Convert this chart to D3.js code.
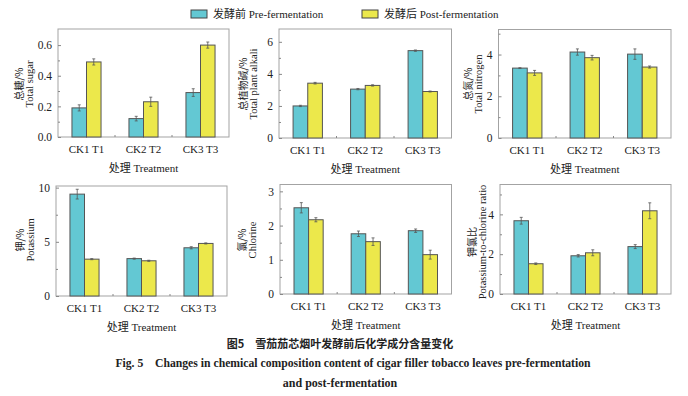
<!DOCTYPE html>
<html>
<head>
<meta charset="utf-8">
<script src="https://cdn.jsdelivr.net/npm/d3@7"></script>
<style>
  body { margin: 0; background: #fff; }
  svg { display: block; }
  text { fill: #222; }
</style>
</head>
<body>
<div id="chart"></div>
<script>
// groups on the x axis
var groups = ["CK1 T1", "CK2 T2", "CK3 T3"];

// values (mean, error)
var sugarPre = [0.19, 0.12, 0.29],  sugarPreErr = [0.02, 0.015, 0.025];
var sugarPost = [0.49, 0.23, 0.60], sugarPostErr = [0.02, 0.03, 0.02];

var alkaliPre = [2.0, 3.05, 5.45],  alkaliPreErr = [0.04, 0.04, 0.04];
var alkaliPost = [3.42, 3.28, 2.9], alkaliPostErr = [0.05, 0.04, 0.03];

var nitroPre = [3.35, 4.12, 4.02],  nitroPreErr = [0.02, 0.15, 0.25];
var nitroPost = [3.12, 3.85, 3.4],  nitroPostErr = [0.12, 0.11, 0.05];

var kPre = [9.4, 3.45, 4.45],  kPreErr = [0.45, 0.05, 0.1];
var kPost = [3.4, 3.25, 4.85], kPostErr = [0.05, 0.05, 0.05];

var clPre = [2.52, 1.76, 1.85],  clPreErr = [0.15, 0.08, 0.05];
var clPost = [2.17, 1.53, 1.15], clPostErr = [0.06, 0.11, 0.13];

var ratioPre = [3.68, 1.92, 2.38],  ratioPreErr = [0.17, 0.06, 0.1];
var ratioPost = [1.52, 2.07, 4.18], ratioPostErr = [0.04, 0.15, 0.4];

var seriesNames = ["发酵前 Pre-fermentation", "发酵后 Post-fermentation"];
var colors = ["#63c8d3", "#ece84b"];

var width = 688, height = 396;
var serif = "'Liberation Serif', 'Times New Roman', 'Noto Sans CJK SC', serif";

var svg = d3.select("#chart").append("svg")
    .attr("width", width)
    .attr("height", height)
    .style("font-family", serif);

// *****************************
// panel layout: box in pixels, y domain, ticks, labels
// *****************************
var panels = [
    { pre: sugarPre, preErr: sugarPreErr, post: sugarPost, postErr: sugarPostErr,
      x0: 58, x1: 229, y0: 29, y1: 137, max: 0.705,
      ticks: [0, 0.2, 0.4, 0.6], minor: [0.1, 0.3, 0.5], fmt: d3.format(".1f"),
      zh: "总糖/%", en: "Total sugar", lx: 22.5, ly: 84 },
    { pre: alkaliPre, preErr: alkaliPreErr, post: alkaliPost, postErr: alkaliPostErr,
      x0: 279, x1: 451.5, y0: 29, y1: 138, max: 6.8,
      ticks: [0, 2, 4, 6], minor: [1, 3, 5], fmt: d3.format("d"),
      zh: "总植物碱/%", en: "Total plant alkali", lx: 246.5, ly: 84 },
    { pre: nitroPre, preErr: nitroPreErr, post: nitroPost, postErr: nitroPostErr,
      x0: 498.5, x1: 671, y0: 29.5, y1: 138, max: 5.2,
      ticks: [0, 2, 4], minor: [1, 3, 5], fmt: d3.format("d"),
      zh: "总氮/%", en: "Total nitrogen", lx: 471.5, ly: 84 },
    { pre: kPre, preErr: kPreErr, post: kPost, postErr: kPostErr,
      x0: 56, x1: 227, y0: 186, y1: 296, max: 10.15,
      ticks: [0, 5, 10], minor: [2.5, 7.5], fmt: d3.format("d"),
      zh: "钾/%", en: "Potassium", lx: 23.5, ly: 240 },
    { pre: clPre, preErr: clPreErr, post: clPost, postErr: clPostErr,
      x0: 280, x1: 451.5, y0: 184.5, y1: 294, max: 3.2,
      ticks: [0, 1, 2, 3], minor: [0.5, 1.5, 2.5], fmt: d3.format("d"),
      zh: "氯/%", en: "Chlorine", lx: 245.5, ly: 240 },
    { pre: ratioPre, preErr: ratioPreErr, post: ratioPost, postErr: ratioPostErr,
      x0: 500, x1: 671, y0: 184.5, y1: 294, max: 5.5,
      ticks: [0, 2, 4], minor: [1, 3, 5], fmt: d3.format("d"),
      zh: "钾氯比", en: "Potassium-to-chlorine ratio", lx: 475.5, ly: 242 }
];

panels.forEach(drawPanel);

function drawPanel(p) {
    var g = svg.append("g");

    var x = d3.scaleBand().domain(groups).range([p.x0, p.x1]);
    var xSub = d3.scaleBand().domain([0, 1])
        .range([0, x.bandwidth()])
        .paddingOuter(0.96);
    var y = d3.scaleLinear().domain([0, p.max]).range([p.y1, p.y0]);

    // frame
    g.append("rect")
        .attr("x", p.x0).attr("y", p.y0)
        .attr("width", p.x1 - p.x0).attr("height", p.y1 - p.y0)
        .attr("fill", "none")
        .attr("stroke", "#a3a3a3")
        .attr("stroke-width", 1);

    // y axis, ticks pointing inward
    var yAxis = g.append("g")
        .attr("transform", "translate(" + p.x0 + ",0)")
        .call(d3.axisLeft(y).tickValues(p.ticks).tickFormat(p.fmt).tickSize(-3).tickPadding(6));
    var yMinor = g.append("g")
        .attr("transform", "translate(" + p.x0 + ",0)")
        .call(d3.axisLeft(y).tickValues(p.minor).tickFormat("").tickSize(-2));
    [yAxis, yMinor].forEach(function (a) {
        a.select(".domain").remove();
        a.selectAll("line").attr("stroke", "#888");
    });
    yAxis.selectAll("text")
        .style("font-family", serif)
        .style("font-size", "11.5px")
        .attr("fill", "#222");

    // x axis labels
    var xAxis = g.append("g")
        .attr("transform", "translate(0," + p.y1 + ")")
        .call(d3.axisBottom(x).tickSize(0).tickPadding(8));
    xAxis.select(".domain").remove();
    xAxis.selectAll("text")
        .style("font-family", serif)
        .style("font-size", "11px")
        .attr("fill", "#222");

    // small ticks between groups
    g.selectAll(".sep")
        .data(groups.slice(1))
        .enter().append("line")
        .attr("x1", d => x(d)).attr("x2", d => x(d))
        .attr("y1", p.y1).attr("y2", p.y1 - 2)
        .attr("stroke", "#888");

    // bars
    var rows = [];
    groups.forEach(function (gr, i) {
        rows.push({ group: gr, s: 0, v: p.pre[i], e: p.preErr[i] });
        rows.push({ group: gr, s: 1, v: p.post[i], e: p.postErr[i] });
    });

    g.selectAll(".bar")
        .data(rows)
        .enter().append("rect")
        .attr("class", "bar")
        .attr("x", d => x(d.group) + xSub(d.s))
        .attr("y", d => y(d.v))
        .attr("width", xSub.bandwidth())
        .attr("height", d => y(0) - y(d.v))
        .attr("fill", d => colors[d.s])
        .attr("stroke", "#555")
        .attr("stroke-width", 1);

    // error bars
    var err = g.selectAll(".err")
        .data(rows)
        .enter().append("g")
        .attr("class", "err")
        .attr("stroke", "#555")
        .attr("stroke-width", 0.8);
    var cx = d => x(d.group) + xSub(d.s) + xSub.bandwidth() / 2;
    err.append("line")
        .attr("x1", cx).attr("x2", cx)
        .attr("y1", d => y(d.v - d.e)).attr("y2", d => y(d.v + d.e));
    err.append("line")
        .attr("x1", d => cx(d) - 1.5).attr("x2", d => cx(d) + 1.5)
        .attr("y1", d => y(d.v + d.e)).attr("y2", d => y(d.v + d.e));
    err.append("line")
        .attr("x1", d => cx(d) - 1.5).attr("x2", d => cx(d) + 1.5)
        .attr("y1", d => y(d.v - d.e)).attr("y2", d => y(d.v - d.e));

    // y label, two rotated lines
    var lab = g.append("text")
        .attr("transform", "translate(" + p.lx + "," + p.ly + ") rotate(-90)")
        .attr("text-anchor", "middle")
        .style("font-size", "10.5px");
    lab.append("tspan")
        .attr("x", 0).attr("y", 0)
        .style("font-family", "'Noto Sans CJK SC', sans-serif")
        .style("font-size", "10px")
        .text(p.zh);
    lab.append("tspan")
        .attr("x", 0).attr("y", 10)
        .text(p.en);

    // x title
    g.append("text")
        .attr("x", (p.x0 + p.x1) / 2)
        .attr("y", p.y1 + 35)
        .attr("text-anchor", "middle")
        .style("font-size", "11px")
        .text("处理 Treatment");
}

// legend
var legend = svg.append("g");
var legendX = [191, 362];
seriesNames.forEach(function (name, i) {
    legend.append("rect")
        .attr("x", legendX[i]).attr("y", 10)
        .attr("width", 16).attr("height", 8)
        .attr("fill", colors[i])
        .attr("stroke", "#444");
    legend.append("text")
        .attr("x", legendX[i] + 22).attr("y", 18)
        .style("font-size", "11px")
        .text(name);
});

// caption
svg.append("text")
    .attr("x", 340).attr("y", 348)
    .attr("text-anchor", "middle")
    .style("font-family", "'Noto Sans CJK SC', sans-serif")
    .style("font-weight", "bold")
    .style("font-size", "11px")
    .text("图5\u2003雪茄茄芯烟叶发酵前后化学成分含量变化");
svg.append("text")
    .attr("x", 353).attr("y", 367)
    .attr("text-anchor", "middle")
    .style("font-weight", "bold")
    .style("font-size", "11.7px")
    .text("Fig. 5\u2003Changes in chemical composition content of cigar filler tobacco leaves pre-fermentation");
svg.append("text")
    .attr("x", 340).attr("y", 387)
    .attr("text-anchor", "middle")
    .style("font-weight", "bold")
    .style("font-size", "12px")
    .text("and post-fermentation");
</script>
</body>
</html>
